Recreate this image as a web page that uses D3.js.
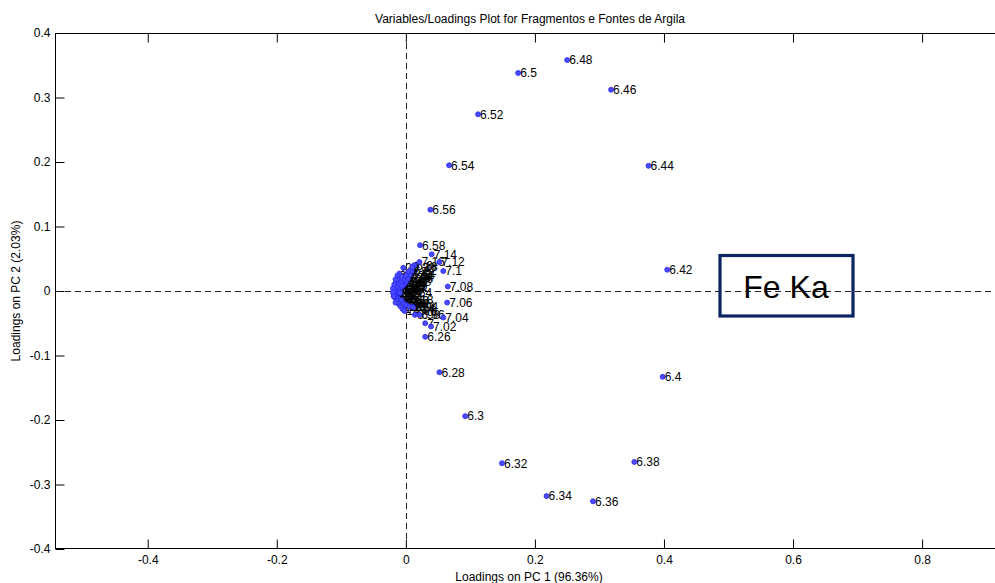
<!DOCTYPE html>
<html>
<head>
<meta charset="utf-8">
<script src="https://cdn.jsdelivr.net/npm/d3@7/dist/d3.min.js"></script>
<style>
  html, body { margin: 0; padding: 0; background: #fff; }
  svg { display: block; font-family: "Liberation Sans", Arial, sans-serif; }
</style>
</head>
<body>
<svg id="chart" width="995" height="583"></svg>
<script>
// ---- data ----
const title = "Variables/Loadings Plot for Fragmentos e Fontes de Argila";
const xTitle = "Loadings on PC 1 (96.36%)";
const yTitle = "Loadings on PC 2 (2.03%)";
const xTicks = [-0.4, -0.2, 0, 0.2, 0.4, 0.6, 0.8];
const yTicks = [-0.4, -0.3, -0.2, -0.1, 0, 0.1, 0.2, 0.3, 0.4];
const xLim = [-0.5437, 0.915];
const yLim = [-0.4, 0.4];

// variable labels (energies) and their loadings
const labels = [
  "6.26","6.28","6.3","6.32","6.34","6.36","6.38","6.4","6.42","6.44","6.46","6.48","6.5","6.52","6.54","6.56","6.58",
  "6.6","6.62","6.64","6.66","6.68","6.7","6.72","6.74","6.76","6.78","6.8","6.82","6.84","6.86","6.88","6.9","6.92",
  "6.94","6.96","6.98","7","7.02","7.04","7.06","7.08","7.1","7.12","7.14","7.16","7.18","7.2","7.22","7.24","7.26","7.28","7.3",
  "8.04","8.62","9.58","10.52","11.22","12.6","14.14","14.96","15.76","16.6","17.44","19.6","20.2","21","1.74","3.3","3.7","4.5",
  "10.54","20.18","10.5","20.44","20.38"
];
const pc1 = [
  0.030,0.052,0.092,0.149,0.218,0.290,0.354,0.398,0.405,0.376,0.318,0.250,0.174,0.112,0.067,0.038,0.022,
  0.013,0.009,0.006,0.003,0.000,-0.003,-0.006,-0.009,-0.012,-0.015,-0.017,-0.016,-0.013,-0.009,-0.004,0.001,0.006,
  0.011,0.021,0.014,0.030,0.039,0.058,0.064,0.065,0.058,0.052,0.040,0.021,0.010,0.004,0.000,-0.004,-0.008,-0.011,-0.014,
  -0.018,-0.019,-0.017,-0.014,-0.011,-0.008,-0.005,-0.002,-0.012,-0.015,-0.018,-0.020,-0.020,-0.019,-0.016,-0.010,-0.013,-0.016,
  -0.009,-0.007,-0.006,-0.007,-0.004
];
const pc2 = [
  -0.071,-0.126,-0.194,-0.267,-0.318,-0.326,-0.265,-0.133,0.033,0.194,0.312,0.358,0.338,0.274,0.195,0.126,0.071,
  0.040,0.031,0.025,0.019,0.014,0.010,0.007,0.004,0.002,0.000,-0.003,-0.007,-0.011,-0.015,-0.019,-0.022,-0.024,
  -0.025,-0.037,-0.037,-0.050,-0.055,-0.041,-0.018,0.007,0.031,0.045,0.057,0.045,0.037,0.030,0.024,0.018,0.013,0.009,0.005,
  0.002,-0.005,-0.010,-0.015,-0.020,-0.024,-0.028,-0.031,0.020,0.015,0.010,0.004,-0.002,-0.008,-0.018,0.027,0.024,0.018,
  -0.003,-0.014,0.008,0.022,0.036
];
const annotation = "Fe Ka";

(function draw() {
  const svg = d3.select("#chart");
  const L = 55, T = 33, B = 549, R = 995;
  const pxPerUnit = 645.3;
  const rangeRight = L + (xLim[1] - xLim[0]) * pxPerUnit;

  const x = d3.scaleLinear().domain(xLim).range([L, rangeRight]);
  const y = d3.scaleLinear().domain(yLim).range([B, T]);

  const points = labels.map((l, i) => ({ label: l, px: pc1[i], py: pc2[i] }));
  const font = "Liberation Sans, Arial, sans-serif";
  const fs = "12px";

  // axes box lines (top, bottom, left)
  svg.append("line").attr("x1", L).attr("x2", R).attr("y1", T + 0.5).attr("y2", T + 0.5)
    .attr("stroke", "#000");
  svg.append("line").attr("x1", L).attr("x2", R).attr("y1", B - 0.5).attr("y2", B - 0.5)
    .attr("stroke", "#000");
  svg.append("line").attr("x1", L + 0.5).attr("x2", L + 0.5).attr("y1", T).attr("y2", B)
    .attr("stroke", "#000");

  // x axis (bottom) with inward ticks
  const xAxisB = d3.axisBottom(x).tickValues(xTicks).tickSizeInner(-9).tickSizeOuter(0)
    .tickFormat(d => d === 0 ? "0" : String(+d.toFixed(1)));
  const gxb = svg.append("g").attr("transform", `translate(0,${B - 0.5})`).call(xAxisB);
  gxb.select(".domain").remove();
  gxb.selectAll(".tick line").attr("stroke", "#000");
  gxb.selectAll(".tick text").attr("y", 7).attr("dy", "0.71em")
    .style("font-size", fs).style("font-family", font).attr("fill", "#000");

  // x axis (top) ticks only
  const xAxisT = d3.axisTop(x).tickValues(xTicks).tickSizeInner(-9).tickSizeOuter(0).tickFormat("");
  const gxt = svg.append("g").attr("transform", `translate(0,${T + 0.5})`).call(xAxisT);
  gxt.select(".domain").remove();
  gxt.selectAll(".tick line").attr("stroke", "#000");

  // y axis (left) with inward ticks
  const yAxis = d3.axisLeft(y).tickValues(yTicks).tickSizeInner(-9).tickSizeOuter(0)
    .tickFormat(d => d === 0 ? "0" : String(+d.toFixed(1)));
  const gy = svg.append("g").attr("transform", `translate(${L + 0.5},0)`).call(yAxis);
  gy.select(".domain").remove();
  gy.selectAll(".tick line").attr("stroke", "#000");
  gy.selectAll(".tick text").attr("x", -5)
    .style("font-size", fs).style("font-family", font).attr("fill", "#000");

  // dashed zero lines
  svg.append("line").attr("x1", L).attr("x2", R).attr("y1", Math.round(y(0)) + 0.5).attr("y2", Math.round(y(0)) + 0.5)
    .attr("stroke", "#222").attr("stroke-dasharray", "6,4");
  svg.append("line").attr("x1", Math.round(x(0)) + 0.5).attr("x2", Math.round(x(0)) + 0.5).attr("y1", T).attr("y2", B)
    .attr("stroke", "#222").attr("stroke-dasharray", "6,4");

  // point labels
  svg.append("g").selectAll("text").data(points).join("text")
    .attr("x", d => x(d.px) + 2)
    .attr("y", d => y(d.py))
    .attr("dy", "0.36em")
    .style("font-size", fs)
    .attr("fill", "#000")
    .text(d => d.label);

  // points
  svg.append("g").selectAll("circle").data(points).join("circle")
    .attr("cx", d => x(d.px))
    .attr("cy", d => y(d.py))
    .attr("r", 2.5)
    .attr("fill", "#4a4aff")
    .attr("stroke", "#2a2af0")
    .attr("stroke-width", 0.8);

  // titles
  svg.append("text").attr("x", 530).attr("y", 19).attr("dy", "0.35em").attr("text-anchor", "middle")
    .style("font-size", fs).attr("fill", "#000").text(title);
  svg.append("text").attr("x", 529).attr("y", 577).attr("dy", "0.35em").attr("text-anchor", "middle")
    .style("font-size", fs).attr("fill", "#000").text(xTitle);
  svg.append("text").attr("transform", `translate(16,${y(0)}) rotate(-90)`).attr("dy", "0.35em")
    .attr("text-anchor", "middle").style("font-size", fs).attr("fill", "#000").text(yTitle);

  // annotation box
  svg.append("rect").attr("x", 720).attr("y", 255.5).attr("width", 133).attr("height", 60.5)
    .attr("fill", "none").attr("stroke", "#0b2463").attr("stroke-width", 3.2);
  svg.append("text").attr("x", 786).attr("y", 298).attr("text-anchor", "middle")
    .style("font-size", "32px").attr("fill", "#000").text(annotation);
})();
</script>
</body>
</html>
